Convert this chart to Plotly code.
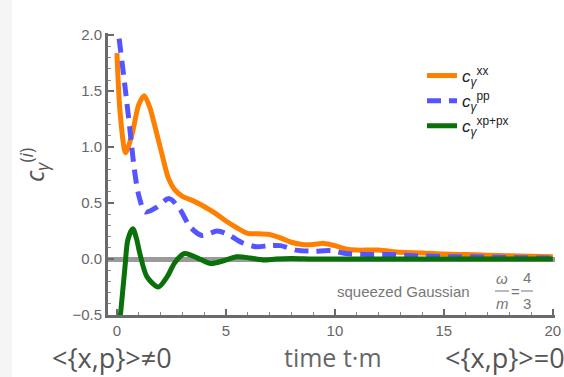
import plotly.graph_objects as go

# ---- data ----
t_xx = [0, 0.15, 0.4, 0.7, 1.0, 1.25, 1.5, 1.75, 2.05, 2.35, 2.65, 3.0, 3.5, 4.0, 4.5, 5.0,
        5.5, 6.0, 6.5, 7.0, 7.5, 8.0, 8.5, 9.0, 9.5, 10.0, 10.5, 11.0, 12.0, 13.0, 14.0,
        15.0, 16.0, 17.0, 18.0, 19.0, 20.0]
c_xx = [1.84, 1.3, 0.95, 1.12, 1.38, 1.46, 1.36, 1.18, 0.95, 0.73, 0.62, 0.56, 0.52, 0.47,
        0.41, 0.34, 0.28, 0.23, 0.225, 0.22, 0.19, 0.15, 0.13, 0.13, 0.14, 0.12, 0.09, 0.08,
        0.08, 0.06, 0.055, 0.045, 0.04, 0.035, 0.03, 0.025, 0.02]

t_pp = [0.1, 0.37, 0.6, 0.8, 1.0, 1.3, 1.8, 2.4, 2.9, 3.35, 3.9, 4.6, 5.1, 5.7, 6.4, 7.0,
        7.5, 8.2, 9.0, 9.8, 10.5, 11.5, 12.5, 13.5, 14.5, 15.5, 16.5, 17.5, 18.5, 19.5, 20]
c_pp = [1.97, 1.54, 1.15, 0.8, 0.57, 0.42, 0.46, 0.54, 0.44, 0.29, 0.21, 0.25, 0.22, 0.15,
        0.11, 0.12, 0.12, 0.08, 0.07, 0.075, 0.05, 0.04, 0.04, 0.03, 0.025, 0.02, 0.02, 0.015,
        0.012, 0.01, 0.01]

t_xp = [0.1, 0.18, 0.37, 0.5, 0.73, 0.9, 1.05, 1.38, 1.9, 2.3, 2.66, 3.1, 3.8, 4.3, 4.9,
        5.5, 6.1, 6.7, 7.3, 8.0, 9.0, 10.0, 12.0, 14.0, 16.0, 18.0, 20.0]
c_xp = [-0.6, -0.46, -0.07, 0.17, 0.27, 0.18, 0.05, -0.16, -0.25, -0.16, -0.03, 0.05, 0.0,
        -0.04, -0.015, 0.02, 0.01, -0.008, 0.0, 0.004, 0.0, 0.0, 0.0, 0.0, 0.0, 0.0, 0.0]

x_ticks = [0, 5, 10, 15, 20]
y_ticks = [-0.5, 0.0, 0.5, 1.0, 1.5, 2.0]
y_tick_text = ["\u22120.5", "0.0", "0.5", "1.0", "1.5", "2.0"]

# ---- layout geometry ----
W, H = 564, 377
L, R, T, B = 108, 9, 33, 62
PW, PH = W - L - R, H - T - B


def px(x):
    return (x - L) / PW


def py(y):
    return 1 - (y - T) / PH


fig = go.Figure()
fig.add_trace(go.Scatter(x=t_xx, y=c_xx, mode="lines", line=dict(color="#FF8000", width=5, shape="spline", smoothing=0.8),
                         name="<i>c</i><sub><i>γ</i></sub><sup>xx</sup>"))
fig.add_trace(go.Scatter(x=t_pp, y=c_pp, mode="lines", line=dict(color="#5555FF", width=5, dash="14px,8px", shape="spline", smoothing=0.8),
                         name="<i>c</i><sub><i>γ</i></sub><sup>pp</sup>"))
fig.add_trace(go.Scatter(x=t_xp, y=c_xp, mode="lines", line=dict(color="#0A700A", width=5, shape="spline", smoothing=0.8),
                         name="<i>c</i><sub><i>γ</i></sub><sup>xp+px</sup>"))

axis_common = dict(showline=True, linecolor="#6a6a6a", linewidth=3, ticks="inside", ticklen=6,
                   tickwidth=2, tickcolor="#6a6a6a", showgrid=False, automargin=False,
                   tickfont=dict(family="Liberation Sans, Arial", size=15, color="#666666"))
fig.update_xaxes(range=[-0.41, 20.1], tickvals=x_ticks, zeroline=False,
                 minor=dict(ticks="inside", ticklen=3, dtick=1, tickcolor="#888888", tickwidth=1),
                 **axis_common)
fig.update_yaxes(range=[-0.5, 2.02], tickvals=y_ticks, ticktext=y_tick_text,
                 zeroline=True, zerolinecolor="rgba(120,120,120,0.75)", zerolinewidth=5,
                 minor=dict(ticks="inside", ticklen=3, dtick=0.1, tickcolor="#888888", tickwidth=1),
                 **axis_common)

gray = "#555555"
ann = []
ann.append(dict(x=px(34), y=py(165), text="<i>c</i><sub><i>γ</i></sub><sup>(<i>i</i>)</sup>", textangle=-90,
                font=dict(size=25, color=gray)))
ann.append(dict(x=px(112), y=py(357), text="&lt;{x,p}&gt;≠0", font=dict(size=27, color=gray)))
ann.append(dict(x=px(333), y=py(357), text="time t·m", font=dict(size=25, color="#666666")))
ann.append(dict(x=px(443), y=py(357), text="&lt;{x,p}&gt;=0", xanchor="left", font=dict(size=27, color=gray)))
f2 = dict(size=15, color="#777777", family="Liberation Sans, Arial")
ann.append(dict(x=px(472), y=py(291), text="squeezed Gaussian", xanchor="right", font=f2))
ann.append(dict(x=px(502), y=py(278), text="<i>ω</i>", font=f2))
ann.append(dict(x=px(502), y=py(303), text="<i>m</i>", font=f2))
ann.append(dict(x=px(515), y=py(291), text="=", font=f2))
ann.append(dict(x=px(527), y=py(277), text="4", font=f2))
ann.append(dict(x=px(527), y=py(303), text="3", font=f2))
for a in ann:
    a.update(xref="paper", yref="paper", showarrow=False)
    a.setdefault("xanchor", "center")
    a.setdefault("yanchor", "middle")

shapes = [
    dict(type="line", xref="paper", yref="paper", x0=px(495), x1=px(509), y0=py(291), y1=py(291),
         line=dict(color="#777777", width=1)),
    dict(type="line", xref="paper", yref="paper", x0=px(521), x1=px(533), y0=py(291), y1=py(291),
         line=dict(color="#777777", width=1)),
    dict(type="rect", xref="paper", yref="paper", x0=px(0), x1=px(12), y0=py(377), y1=py(0),
         fillcolor="#f5f5f5", line=dict(width=0), layer="below"),
]

fig.update_layout(
    width=W, height=H, margin=dict(l=L, r=R, t=T, b=B, autoexpand=False),
    plot_bgcolor="white", paper_bgcolor="white",
    showlegend=True,
    legend=dict(x=px(422), y=py(58), xanchor="left", yanchor="top", bgcolor="rgba(0,0,0,0)",
                font=dict(family="Liberation Sans, Arial", size=17, color="#222222"),
                tracegroupgap=2, itemwidth=30),
    annotations=ann, shapes=shapes,
)
fig.write_html("out.html")
